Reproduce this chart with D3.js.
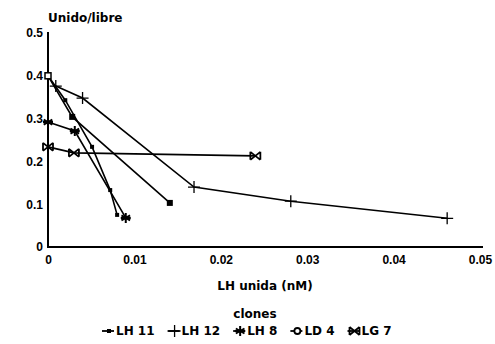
<!DOCTYPE html>
<html>
<head>
<meta charset="utf-8">
<script src="https://cdn.jsdelivr.net/npm/d3@7"></script>
<style>
  body { margin: 0; background: #fff; }
  svg { display: block; font-family: "DejaVu Sans", sans-serif; font-weight: bold; }
</style>
</head>
<body>
<svg id="chart" width="495" height="344"></svg>
<script>
// data
const seriesNames = ['LH 11', 'LH 12', 'LH 8', 'LD 4', 'LG 7']
const lh11 = [[0, 0.40], [0.002, 0.343], [0.0051, 0.234], [0.0072, 0.133], [0.008, 0.075]]
const lh12 = [[0.0009, 0.376], [0.004, 0.348], [0.0169, 0.14], [0.0281, 0.107], [0.0462, 0.067]]
const lh8 = [[0, 0.292], [0.0031, 0.271], [0.009, 0.068]]
const ld4 = [[0, 0.40], [0.0028, 0.304], [0.0141, 0.103]]
const lg7 = [[0, 0.234], [0.003, 0.22], [0.024, 0.213]]
const xTicks = [0, 0.01, 0.02, 0.03, 0.04, 0.05]
const yTicks = [0, 0.1, 0.2, 0.3, 0.4, 0.5]

const markers = ['dot', 'plus', 'star', 'square', 'cross']
const allSeries = [lh11, lh12, lh8, ld4, lg7]

const svg = d3.select('#chart')
const plotLeft = 48, plotRight = 480, plotTop = 33, plotBottom = 247
const fontSize = '12px'

const x = d3.scaleLinear().domain([0, 0.05]).range([plotLeft, plotRight])
const y = d3.scaleLinear().domain([0, 0.5]).range([plotBottom, plotTop])

let fmt = d => d === 0 ? '0' : String(+d.toFixed(2))

// axes
let xAxis = svg.append('g')
  .attr('transform', `translate(0, ${plotBottom})`)
  .call(d3.axisBottom(x).tickValues(xTicks).tickSize(0).tickPadding(8).tickFormat(fmt))
xAxis.select('.domain').remove()
xAxis.selectAll('text').style('font-size', fontSize).style('font-family', 'inherit').style('font-weight', 'bold')

let yAxis = svg.append('g')
  .attr('transform', `translate(${plotLeft}, 0)`)
  .call(d3.axisLeft(y).tickValues(yTicks).tickSize(0).tickPadding(5).tickFormat(fmt))
yAxis.select('.domain').remove()
yAxis.selectAll('text').style('font-size', fontSize).style('font-family', 'inherit').style('font-weight', 'bold')

svg.append('line')
  .attr('x1', plotLeft).attr('x2', plotLeft)
  .attr('y1', plotTop - 1).attr('y2', plotBottom + 1)
  .style('stroke', '#000').style('stroke-width', 2)
svg.append('line')
  .attr('x1', plotLeft - 1).attr('x2', plotRight + 3)
  .attr('y1', plotBottom).attr('y2', plotBottom)
  .style('stroke', '#000').style('stroke-width', 2)

// titles
svg.append('text').attr('x', plotLeft).attr('y', 22)
  .style('font-size', fontSize).text('Unido/libre')
svg.append('text').attr('x', 265).attr('y', 290)
  .style('font-size', fontSize).style('text-anchor', 'middle').text('LH unida (nM)')
svg.append('text').attr('x', 255).attr('y', 318)
  .style('font-size', fontSize).style('text-anchor', 'middle').text('clones')

// marker drawing
let drawMarker = function (g, kind, cx, cy) {
  if (kind === 'dot') {
    g.append('rect').attr('x', cx - 2).attr('y', cy - 2).attr('width', 4).attr('height', 4).style('fill', '#000')
  } else if (kind === 'square') {
    g.append('rect').attr('x', cx - 3).attr('y', cy - 3).attr('width', 6).attr('height', 6).style('fill', '#000')
  } else if (kind === 'plus') {
    g.append('path').attr('d', `M${cx - 6},${cy}H${cx + 6}M${cx},${cy - 6}V${cy + 6}`)
      .style('stroke', '#000').style('stroke-width', 1.3)
  } else if (kind === 'star') {
    let p = ''
    for (let a = 0; a < 3; a++) {
      let t = Math.PI / 2 + a * Math.PI / 3
      p += `M${cx - 5 * Math.cos(t)},${cy - 5 * Math.sin(t)}L${cx + 5 * Math.cos(t)},${cy + 5 * Math.sin(t)}`
    }
    p += `M${cx - 5},${cy}H${cx + 5}`
    g.append('path').attr('d', p).style('stroke', '#000').style('stroke-width', 2)
  } else if (kind === 'cross') {
    g.append('path')
      .attr('d', `M${cx - 5},${cy - 4}L${cx + 5},${cy + 4}M${cx - 5},${cy + 4}L${cx + 5},${cy - 4}M${cx - 5},${cy - 4}V${cy + 4}M${cx + 5},${cy - 4}V${cy + 4}`)
      .style('stroke', '#000').style('stroke-width', 1.8)
  }
}

let line = d3.line().x(d => x(d[0])).y(d => y(d[1]))

allSeries.forEach((data, i) => {
  let g = svg.append('g').classed('series', true)
  g.append('path').attr('d', line(data))
    .style('fill', 'none').style('stroke', '#000').style('stroke-width', 1.6)
  data.forEach(d => drawMarker(g, markers[i], x(d[0]), y(d[1])))
})
// open first point of LD 4
svg.append('rect').attr('x', x(ld4[0][0]) - 3).attr('y', y(ld4[0][1]) - 3)
  .attr('width', 6).attr('height', 6)
  .style('fill', '#fff').style('stroke', '#000').style('stroke-width', 1.5)

// legend: laid out one after another from the left edge
const legendLeft = 102, legendY = 335, legendGap = 13
let legend = svg.append('g').classed('legend', true)
let lx = legendLeft
seriesNames.forEach((name, i) => {
  let lg = legend.append('g')
  lg.append('line').attr('x1', lx).attr('x2', lx + 12).attr('y1', legendY - 4).attr('y2', legendY - 4)
    .style('stroke', '#000').style('stroke-width', 1.8)
  if (markers[i] === 'square') {
    lg.append('circle').attr('cx', lx + 7).attr('cy', legendY - 4).attr('r', 3)
      .style('fill', '#fff').style('stroke', '#000').style('stroke-width', 1.8)
  } else {
    drawMarker(lg, markers[i], lx + 7, legendY - 4)
  }
  let t = lg.append('text').attr('x', lx + 14).attr('y', legendY)
    .style('font-size', fontSize).text(name)
  lx += 14 + t.node().getComputedTextLength() + legendGap
})
</script>
</body>
</html>
